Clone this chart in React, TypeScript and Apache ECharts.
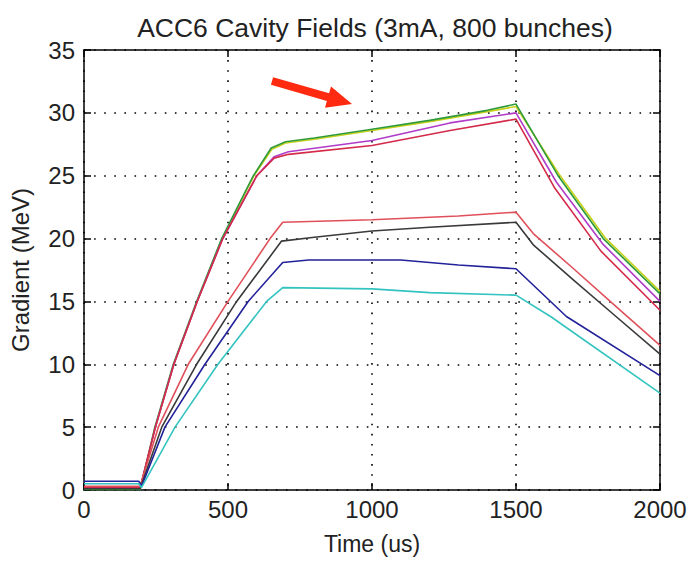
import React, { useEffect, useRef } from "react";
import * as echarts from "echarts";

const titleText = "ACC6 Cavity Fields (3mA, 800 bunches)";
const xName = "Time (us)";
const yName = "Gradient (MeV)";

const seriesNames = ["yellow", "green", "magenta", "red", "red2", "black", "blue", "cyan"];
const seriesColors = ["#c6d21a", "#2f9a3a", "#b03cc8", "#d42a4a", "#e0505a", "#3a3a3a", "#22229a", "#33c4c0"];

const yellow: [number, number][] = [[0, 0.1], [195, 0.1], [246, 4.9], [312, 10], [393, 15], [480, 20], [590, 25], [652, 27.1], [700, 27.6], [800, 27.9], [1000, 28.6], [1200, 29.3], [1400, 30.1], [1500, 30.5], [1650, 25.1], [1808, 20.1], [2000, 15.8]];
const green: [number, number][] = [[0, 0.05], [195, 0.05], [246, 5], [310, 10], [391, 15], [478, 20], [588, 25], [650, 27.2], [700, 27.7], [800, 28.0], [1000, 28.7], [1200, 29.4], [1400, 30.2], [1500, 30.7], [1646, 25], [1803, 20], [2000, 15.6]];
const magenta: [number, number][] = [[0, 0.15], [195, 0.15], [248, 5], [312, 10], [393, 15], [482, 20], [600, 25], [660, 26.5], [710, 26.9], [1000, 27.8], [1271, 29.2], [1500, 30.0], [1640, 24.5], [1800, 19.6], [2000, 15.0]];
const red: [number, number][] = [[0, 0.2], [195, 0.2], [248, 5], [312, 10], [393, 15], [482, 20], [600, 25], [660, 26.4], [710, 26.7], [1000, 27.4], [1271, 28.6], [1500, 29.5], [1635, 24], [1795, 19], [2000, 14.3]];
const red2: [number, number][] = [[0, 0.3], [195, 0.3], [258, 5], [362, 10], [500, 15], [646, 20], [690, 21.3], [1000, 21.5], [1300, 21.8], [1500, 22.1], [1560, 20.4], [1700, 17.6], [1832, 14.9], [2000, 11.5]];
const black: [number, number][] = [[0, 0.1], [195, 0.1], [270, 5], [391, 10], [530, 15], [686, 19.8], [800, 20.1], [1000, 20.6], [1200, 20.9], [1500, 21.3], [1560, 19.5], [1700, 16.7], [1832, 14.1], [2000, 10.8]];
const blue: [number, number][] = [[0, 0.7], [190, 0.7], [200, 0.3], [281, 5], [420, 10], [570, 15], [690, 18.1], [780, 18.3], [1100, 18.3], [1300, 17.9], [1500, 17.6], [1675, 13.8], [2000, 9.1]];
const cyan: [number, number][] = [[0, 0.5], [190, 0.5], [200, 0.2], [316, 5], [465, 10], [634, 15], [690, 16.1], [1000, 16.0], [1200, 15.7], [1500, 15.5], [1620, 13.8], [2000, 7.7]];

const allData = [yellow, green, magenta, red, red2, black, blue, cyan];

const xMin = 0, xMax = 2000, xStep = 500;
const yMin = 0, yMax = 35, yStep = 5;

const FONT = "'Liberation Sans', Arial, sans-serif";

export default function App() {
  const ref = useRef<HTMLDivElement>(null);
  useEffect(() => {
    if (!ref.current) return;
    const chart = echarts.init(ref.current, undefined, { renderer: "svg" });
    const dotted = { show: true, lineStyle: { color: "#000", width: 1.6, type: [1.6, 8.5] as any } };
    const plain = (v: number) => String(v);
    const option: any = {
      animation: false,
      backgroundColor: "#fff",
      title: {
        text: titleText,
        left: 370,
        top: 9,
        textAlign: "center",
        textStyle: { fontFamily: FONT, fontSize: 26.5, fontWeight: "normal", color: "#222" },
      },
      grid: { left: 84, right: 29, top: 50, bottom: 72, show: false, outerBoundsMode: "none", containLabel: false },
      xAxis: [
        {
          type: "value", min: xMin, max: xMax, interval: xStep, position: "bottom",
          name: xName, nameLocation: "middle", nameGap: 42,
          nameTextStyle: { fontFamily: FONT, fontSize: 23, color: "#222" },
          axisLine: { show: true, onZero: false, lineStyle: { color: "#000", width: 1.5 } },
          axisTick: { show: true, inside: true, length: 7, lineStyle: { color: "#000", width: 1.5 } },
          axisLabel: { fontFamily: FONT, fontSize: 24, color: "#222", margin: 7, formatter: plain },
          splitLine: dotted,
        },
        {
          type: "value", min: xMin, max: xMax, interval: xStep, position: "top",
          axisLine: { show: true, onZero: false, lineStyle: { color: "#000", width: 1.5 } },
          axisTick: { show: true, inside: true, length: 7, lineStyle: { color: "#000", width: 1.5 } },
          axisLabel: { show: false },
          splitLine: { show: false },
        },
      ],
      yAxis: [
        {
          type: "value", min: yMin, max: yMax, interval: yStep, position: "left",
          name: yName, nameLocation: "middle", nameGap: 52, nameRotate: 90,
          nameTextStyle: { fontFamily: FONT, fontSize: 24, color: "#222" },
          axisLine: { show: true, onZero: false, lineStyle: { color: "#000", width: 1.5 } },
          axisTick: { show: true, inside: true, length: 7, lineStyle: { color: "#000", width: 1.5 } },
          axisLabel: { fontFamily: FONT, fontSize: 24, color: "#222", margin: 9, formatter: plain },
          splitLine: dotted,
        },
        {
          type: "value", min: yMin, max: yMax, interval: yStep, position: "right",
          axisLine: { show: true, onZero: false, lineStyle: { color: "#000", width: 1.5 } },
          axisTick: { show: true, inside: true, length: 7, lineStyle: { color: "#000", width: 1.5 } },
          axisLabel: { show: false },
          splitLine: { show: false },
        },
      ],
      series: allData.map((d, i) => ({
        name: seriesNames[i],
        type: "line",
        xAxisIndex: 0,
        yAxisIndex: 0,
        data: d,
        showSymbol: false,
        symbol: "none",
        lineStyle: { color: seriesColors[i], width: 1.6 },
        z: 3,
      })),
      graphic: [
        {
          type: "polygon",
          z: 100,
          shape: {
            points: [[273.1, 77.2], [329.1, 93.3], [331, 86.5], [352, 104], [325, 107.7], [326.9, 100.9], [270.9, 84.8]],
          },
          style: { fill: "#ff2a10" },
        },
      ],
    };
    chart.setOption(option);
    return () => chart.dispose();
  }, []);
  return <div ref={ref} style={{ width: 689, height: 562, position: "absolute", left: 0, top: 0 }} />;
}
